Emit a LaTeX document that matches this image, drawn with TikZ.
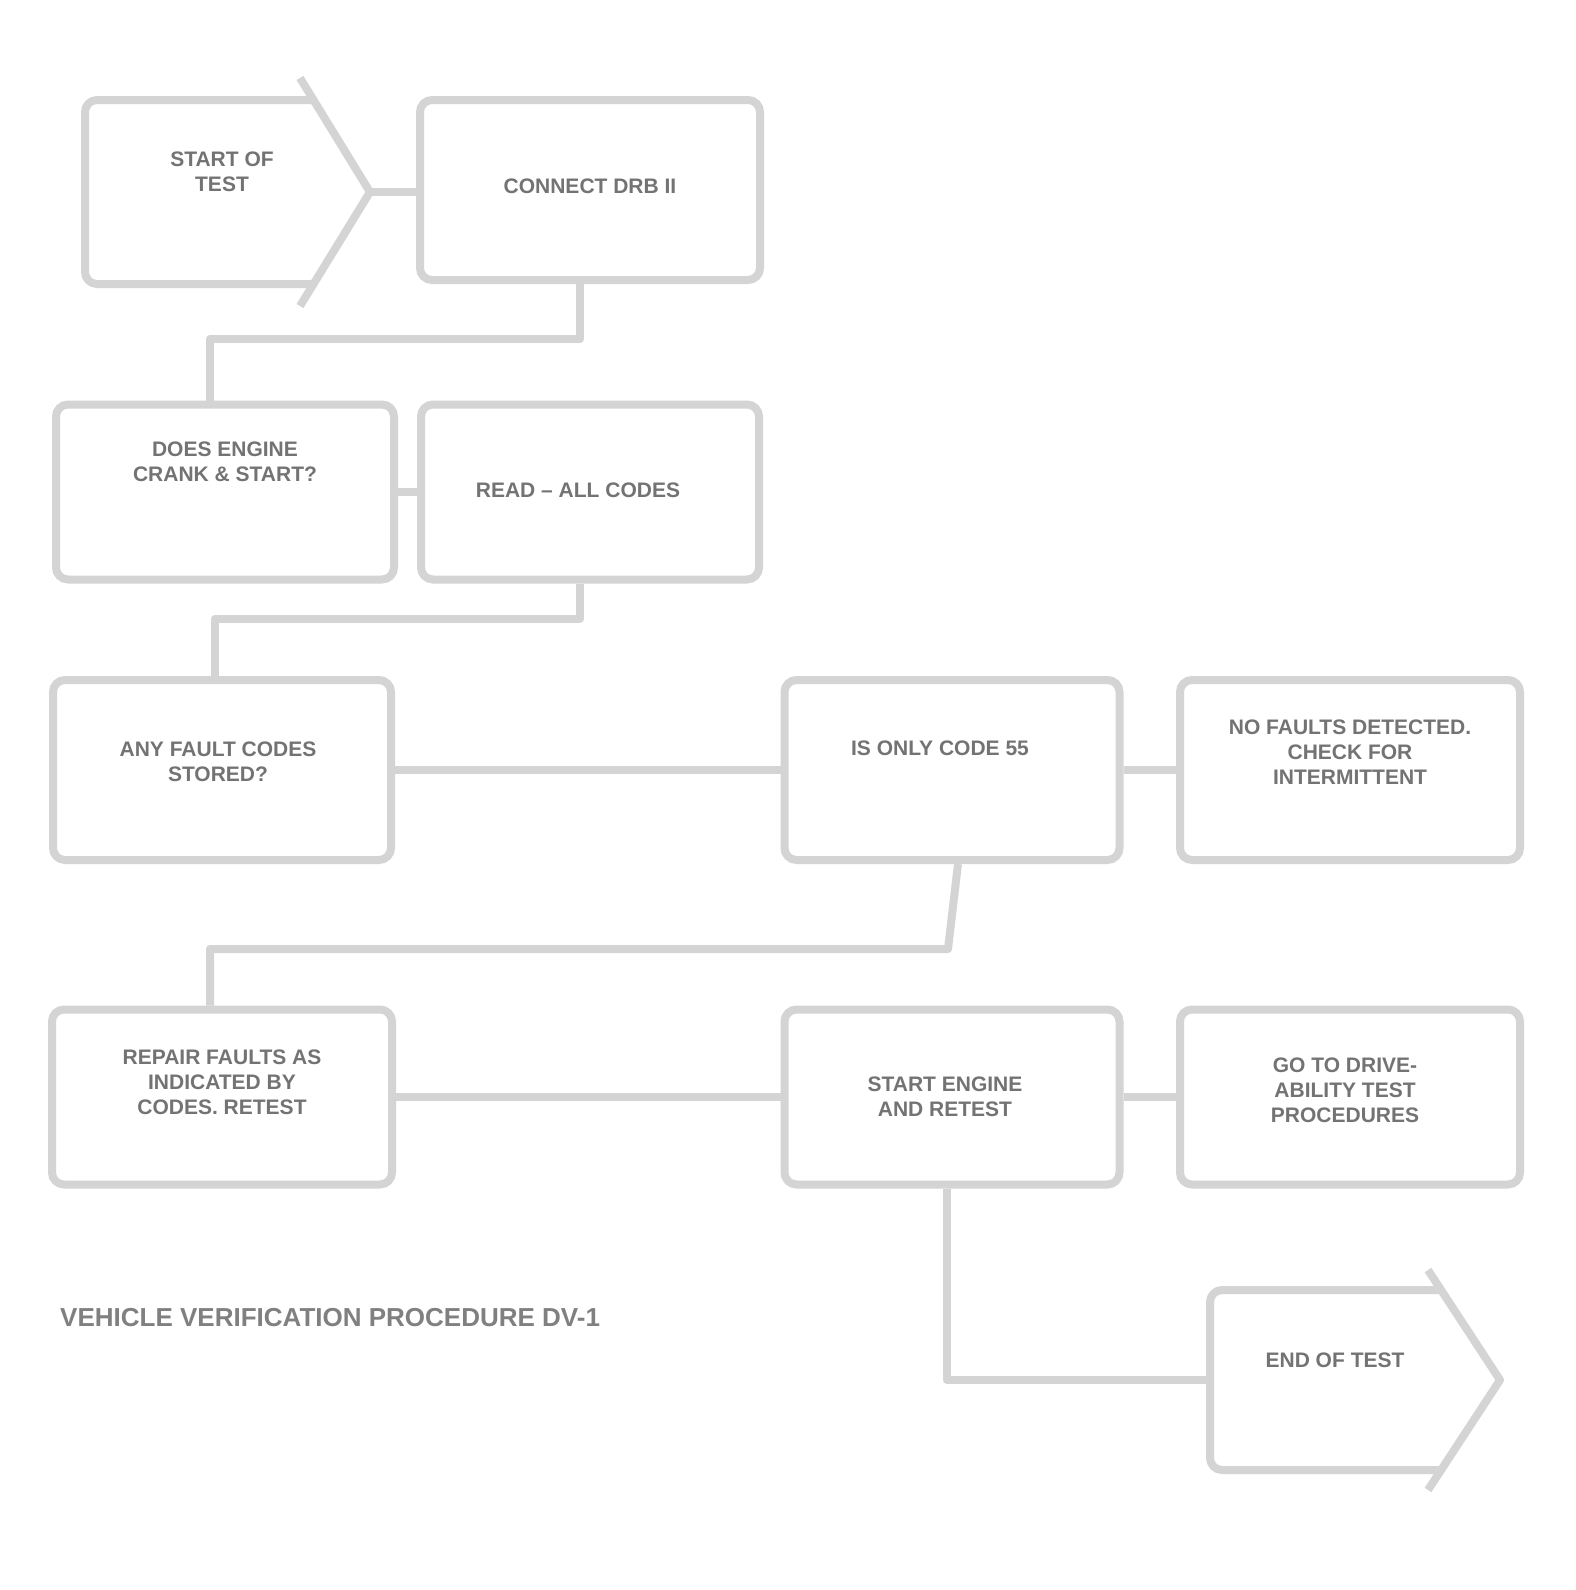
\documentclass[tikz,border=0pt]{standalone}
\usepackage{fontspec}
\setmainfont{Liberation Sans}
\begin{document}
\begin{tikzpicture}[x=1pt,y=-1pt,
  ln/.style={draw=black!17,line width=8pt,line join=round},
  box/.style={draw=black!17,line width=8pt,rounded corners=12pt,rectangle,inner sep=0pt},
  txt/.style={text=black!55,font=\bfseries\fontsize{21}{25}\selectfont,align=center,inner sep=0pt},
  captxt/.style={text=black!50,font=\bfseries\fontsize{26}{30}\selectfont,anchor=west,inner sep=0pt}]
\useasboundingbox (0,0) rectangle (1576,1590);
\fill[white] (0,0) rectangle (1576,1590);
% start pentagon
\coordinate (s1) at (85,100);
\coordinate (s2) at (313,100);
\coordinate (stip) at (370,192);
\coordinate (s3) at (313,284);
\coordinate (s4) at (85,284);
\draw[ln,rounded corners=12pt] (s2) -- (s1) -- (s4) -- (s3);
\draw[ln] (300,78) -- (stip) -- (300,306);
\node[txt] (t1) at (222,172) {START OF\\TEST};
% boxes
\node[box,minimum width=340pt,minimum height=180pt] (b2) at (590,190) {};
\node[txt] at (590,186) {CONNECT DRB II};
\node[box,minimum width=338pt,minimum height=175pt] (b3) at (225,492) {};
\node[txt] at (225,462) {DOES ENGINE\\CRANK \& START?};
\node[box,minimum width=338pt,minimum height=175pt] (b4) at (590,492) {};
\node[txt] at (578,490) {READ -- ALL CODES};
\node[box,minimum width=338pt,minimum height=180pt] (b5) at (222,770) {};
\node[txt] at (218,762) {ANY FAULT CODES\\STORED?};
\node[box,minimum width=335pt,minimum height=180pt] (b6) at (952,770) {};
\node[txt] at (940,748) {IS ONLY CODE 55};
\node[box,minimum width=340pt,minimum height=180pt] (b7) at (1350,770) {};
\node[txt] at (1350,752) {NO FAULTS DETECTED.\\CHECK FOR\\INTERMITTENT};
\node[box,minimum width=340pt,minimum height=175pt] (b8) at (222,1097) {};
\node[txt] at (222,1082) {REPAIR FAULTS AS\\INDICATED BY\\CODES. RETEST};
\node[box,minimum width=335pt,minimum height=175pt] (b9) at (952,1097) {};
\node[txt] at (945,1097) {START ENGINE\\AND RETEST};
\node[box,minimum width=340pt,minimum height=175pt] (b10) at (1350,1097) {};
\node[txt] at (1345,1090) {GO TO DRIVE-\\ABILITY TEST\\PROCEDURES};
% end pentagon
\coordinate (e1) at (1210,1290);
\coordinate (e2) at (1440,1290);
\coordinate (etip) at (1500,1380);
\coordinate (e3) at (1440,1470);
\coordinate (e4) at (1210,1470);
\coordinate (ein) at (1210,1380);
\draw[ln,rounded corners=12pt] (e2) -- (e1) -- (e4) -- (e3);
\draw[ln] (1428,1270) -- (etip) -- (1428,1490);
\node[txt] (t11) at (1335,1360) {END OF TEST};
% caption
\node[captxt] (caption) at (60,1318) {VEHICLE VERIFICATION PROCEDURE DV-1};
% connectors
\draw[ln] (stip) -- (b2.west |- stip);
\draw[ln] ([xshift=-10pt]b2.south) -- ++(0,55) -| ([xshift=-15pt]b3.north);
\draw[ln] (b3.east) -- (b4.west);
\draw[ln] ([xshift=-10pt]b4.south) -- ++(0,35) -| ([xshift=-7pt]b5.north);
\draw[ln] (b5.east) -- (b6.west);
\draw[ln] (b6.east) -- (b7.west);
\draw[ln] ([xshift=6pt]b6.south) -- ++(-10,85) -| ([xshift=-12pt]b8.north);
\draw[ln] (b8.east) -- (b9.west);
\draw[ln] (b9.east) -- (b10.west);
\draw[ln] ([xshift=-5pt]b9.south) |- (ein);
\end{tikzpicture}
\end{document}
